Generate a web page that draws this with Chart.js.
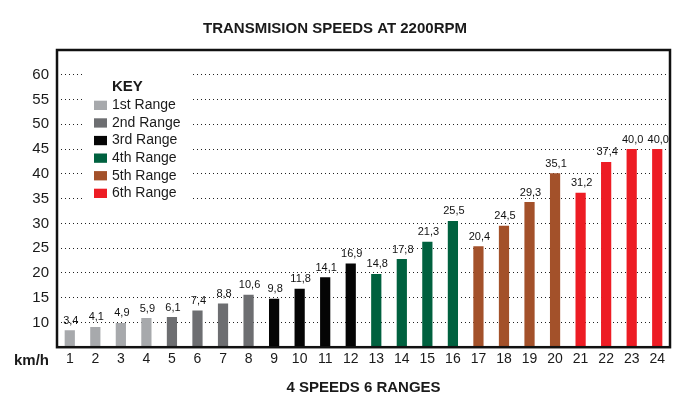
<!DOCTYPE html>
<html>
<head>
<meta charset="utf-8">
<script src="https://cdn.jsdelivr.net/npm/chart.js@4.4.0/dist/chart.umd.min.js"></script>
<style>
  html, body { margin: 0; padding: 0; background: #fff; }
  #wrap { width: 683px; height: 405px; }
</style>
</head>
<body>
<div id="wrap"><canvas id="grafico" width="683" height="405"></canvas></div>
<script>
// dados
const speedLabels = ['1','2','3','4','5','6','7','8','9','10','11','12',
                     '13','14','15','16','17','18','19','20','21','22','23','24'];
const speeds = [3.4, 4.1, 4.9, 5.9, 6.1, 7.4, 8.8, 10.6, 9.8, 11.8, 14.1, 16.9,
                14.8, 17.8, 21.3, 25.5, 20.4, 24.5, 29.3, 35.1, 31.2, 37.4, 40.0, 40.0];
const barRange = [0,0,0,0, 1,1,1,1, 2,2,2,2, 3,3,3,3, 4,4,4,4, 5,5,5,5];
const rangeNames = ['1st Range', '2nd Range', '3rd Range', '4th Range', '5th Range', '6th Range'];
const rangeColours = ['#a7a9ac', '#6d6e71', '#050505', '#00613f', '#a3512a', '#ed1c24'];
const yTickLabels = ['10','15','20','25','30','35','40','45','50','55','60'];

const FONTE = 'Arial, "Liberation Sans", Helvetica, sans-serif';

const extras = {
    id: 'extras',
    afterDatasetsDraw(chart) {
        const ctx = chart.ctx;
        const meta = chart.getDatasetMeta(0);
        ctx.save();
        ctx.font = '11px ' + FONTE;
        ctx.fillStyle = '#111';
        ctx.textAlign = 'center';
        ctx.textBaseline = 'bottom';
        meta.data.forEach((bar, i) => {
            ctx.fillText(speeds[i].toFixed(1).replace('.', ','), bar.x + 1, bar.y - 4);
        });
        // moldura
        const a = chart.chartArea;
        ctx.strokeStyle = '#111';
        ctx.lineWidth = 2.5;
        ctx.strokeRect(a.left, a.top, a.right - a.left, a.bottom - a.top);
        ctx.restore();
    },
    afterDraw(chart) {
        const ctx = chart.ctx;
        ctx.save();
        // legenda
        ctx.fillStyle = '#fff';
        ctx.fillRect(83, 66, 110, 142);
        ctx.fillStyle = '#1a1a1a';
        ctx.font = 'bold 15px ' + FONTE;
        ctx.textAlign = 'left';
        ctx.textBaseline = 'middle';
        ctx.fillText('KEY', 112, 87);
        ctx.font = '14px ' + FONTE;
        rangeNames.forEach((nome, i) => {
            const y = 105.3 + i * 17.6;
            ctx.fillStyle = rangeColours[i];
            ctx.fillRect(94, y - 4.6, 13, 9.3);
            ctx.fillStyle = '#1a1a1a';
            ctx.fillText(nome, 112, y);
        });
        // unidade
        ctx.font = 'bold 15px ' + FONTE;
        ctx.textAlign = 'right';
        ctx.fillText('km/h', 49, 361);
        ctx.restore();
    }
};

new Chart(document.getElementById('grafico'), {
    type: 'bar',
    data: {
        labels: speedLabels,
        datasets: [{
            data: speeds,
            backgroundColor: barRange.map(r => rangeColours[r]),
            borderWidth: 0,
            barPercentage: 0.4,
            categoryPercentage: 1
        }]
    },
    options: {
        responsive: false,
        animation: false,
        layout: { padding: { left: 0, right: 13, top: 0, bottom: 0 } },
        plugins: {
            legend: { display: false },
            tooltip: { enabled: false },
            title: {
                display: true,
                text: 'TRANSMISION SPEEDS AT 2200RPM',
                color: '#1a1a1a',
                font: { family: FONTE, size: 15, weight: 'bold' },
                padding: { top: 20, bottom: 12 }
            }
        },
        scales: {
            x: {
                grid: { display: false, drawTicks: false, tickLength: 0 },
                border: { display: false },
                ticks: {
                    color: '#1a1a1a',
                    font: { family: FONTE, size: 14 },
                    padding: 4,
                    maxRotation: 0,
                    autoSkip: false
                },
                title: {
                    display: true,
                    text: '4 SPEEDS 6 RANGES',
                    color: '#1a1a1a',
                    font: { family: FONTE, size: 15, weight: 'bold' },
                    padding: { top: 7, bottom: 8 }
                }
            },
            y: {
                min: 0,
                max: 60,
                afterFit(scale) { scale.width = 57; },
                border: { display: false, dash: [1, 3] },
                grid: {
                    drawTicks: false,
                    tickLength: 0,
                    lineWidth: 1,
                    color: c => (c.tick.value === 0 || c.tick.value === 60) ? 'rgba(0,0,0,0)' : '#222'
                },
                ticks: {
                    stepSize: 5,
                    color: '#1a1a1a',
                    font: { family: FONTE, size: 15 },
                    padding: 8,
                    callback: v => (v === 0 || v === 60) ? '' : yTickLabels[v / 5 - 1]
                }
            }
        }
    },
    plugins: [extras]
});
</script>
</body>
</html>
